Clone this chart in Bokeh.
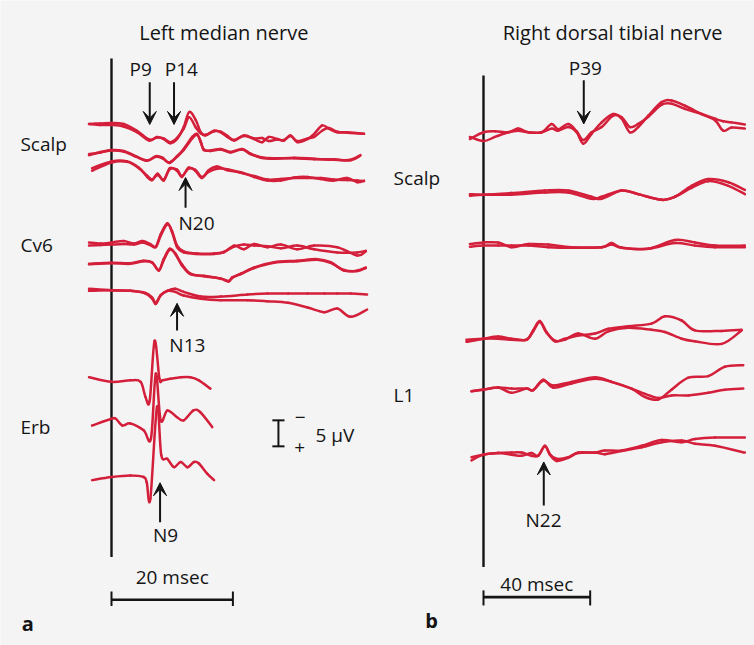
from bokeh.plotting import figure
from bokeh.models import Range1d, Arrow, VeeHead
from bokeh.embed import file_html
from bokeh.resources import INLINE
from bokeh.core.properties import value

# ---------------- data (time in msec, amplitude in µV, negative up) ----------------
# Left median nerve: Scalp rows
s1_t = [-3.7, -1.8, 0.0, 2.0, 4.2, 6.2, 7.5, 8.6, 9.7, 10.8, 11.9, 12.8, 13.9, 14.7, 15.5, 16.9, 18.0, 19.1, 20.2, 21.8,
        23.5, 24.8, 25.9, 27.3, 28.4, 29.5, 30.6, 32.3, 33.4, 34.7, 35.8, 37.2, 38.9, 41.6]
s1_a = [-0.3, -0.1, -0.1, 0.2, 1.3, 2.9, 2.2, 2.6, 3.4, 2.6, 0.3, -2.6, -1.0, 1.3, 1.9, 1.0, 1.3, 2.2, 2.9, 1.9,
        2.6, 3.2, 2.2, 2.6, 2.9, 1.9, 3.2, 2.6, 1.6, 0.0, 0.6, 1.3, 1.3, 1.6]
s1_b = [-0.3, -0.4, -0.5, -0.3, 1.0, 2.7, 2.3, 2.5, 3.2, 2.4, 0.6, -1.6, 0.4, 1.5, 1.8, 1.1, 1.2, 2.0, 2.8, 2.0,
        2.5, 2.4, 3.0, 2.7, 2.8, 2.0, 3.0, 2.5, 2.2, 1.0, 0.5, 1.2, 1.4, 1.6]

s2_t = [-3.7, -1.8, 0.0, 2.0, 4.0, 5.9, 7.3, 8.4, 9.5, 10.8, 11.9, 13.3, 14.1, 14.7, 15.2, 16.3, 18.0, 19.6, 21.5, 22.9,
        24.6, 26.8, 30.1, 33.4, 36.6, 39.4, 41.0]
s2_a = [0.6, 0.0, -0.4, -0.2, 0.8, 1.7, 0.8, 1.1, 2.1, 0.8, -0.6, -2.9, -3.5, -1.9, -0.4, -0.3, -0.6, 0.0, -0.6, 0.3,
        1.1, 1.3, 1.1, 1.3, 1.5, 1.5, 0.6]
s2_b = [0.4, 0.1, -0.3, -0.1, 0.9, 1.6, 0.9, 1.2, 2.0, 0.9, -0.4, -2.6, -3.3, -2.0, -0.5, -0.2, -0.5, 0.1, -0.5, 0.4,
        1.0, 1.2, 1.2, 1.4, 1.4, 1.6, 0.7]

s3_t = [-3.2, 0.0, 2.6, 4.5, 5.9, 6.7, 7.6, 8.6, 9.6, 10.8, 11.6, 12.7, 13.8, 14.9, 16.0, 17.4, 19.1, 21.3, 23.5, 25.7,
        27.9, 30.1, 32.3, 34.5, 36.6, 38.8, 40.5, 41.6]
s3_a = [1.1, -0.2, -0.2, 1.0, 2.8, 3.4, 2.2, 3.5, 1.1, 1.6, 2.8, 1.0, 1.6, 3.0, 1.5, 0.8, 1.5, 1.9, 2.8, 3.5,
        3.5, 2.9, 2.8, 3.2, 3.5, 3.0, 3.8, 3.5]
s3_b = [1.6, 0.0, -0.1, 1.1, 2.6, 3.3, 2.4, 3.3, 1.3, 1.4, 2.6, 1.2, 1.4, 2.8, 1.8, 1.2, 1.3, 2.0, 2.6, 3.3,
        3.2, 3.0, 3.0, 3.0, 3.3, 3.4, 3.5, 3.6]

# Cv6 rows
c1_t = [-3.7, -1.8, 0.0, 2.0, 3.7, 5.1, 6.4, 7.3, 8.1, 9.2, 10.0, 10.8, 11.9, 14.1, 16.9, 18.5, 20.2, 21.8, 23.5, 25.7,
        27.9, 30.6, 33.4, 37.2, 40.5, 41.9]
c1_a = [-0.3, -0.1, -0.3, -0.6, -0.1, -0.6, 0.0, 0.5, -1.9, -4.0, -2.2, 0.6, 1.6, 1.9, 1.9, 1.6, 0.3, 1.0, 0.0, 0.6,
        0.1, 1.0, 0.3, 0.6, 2.2, 1.4]
c1_b = [0.3, 0.2, 0.1, 0.0, 0.1, -0.3, 0.2, 0.6, -1.6, -3.8, -2.4, 0.3, 1.4, 1.8, 1.8, 1.5, 0.5, 0.1, 0.3, 0.4,
        0.8, 0.3, 1.0, 1.6, 1.6, 1.3]

c2_t = [-3.7, 0.0, 3.1, 5.3, 6.7, 7.8, 8.6, 9.6, 10.5, 11.6, 13.0, 15.2, 18.0, 19.3, 19.9, 21.3, 23.5, 26.8, 30.6, 33.9,
        36.1, 38.3, 40.5, 41.9]
c2_a = [0.1, -0.1, 0.0, -0.5, -0.2, 1.4, -0.8, -2.8, -1.8, 0.4, 2.1, 2.4, 3.0, 3.5, 2.7, 2.1, 0.8, -0.2, -0.5, -0.8,
        -0.2, 1.4, 1.4, 0.8]
c2_b = [0.2, 0.0, 0.1, -0.4, -0.1, 1.3, -0.6, -2.6, -1.9, 0.2, 2.0, 2.5, 2.9, 3.4, 2.8, 2.0, 0.9, -0.1, -0.4, -0.7,
        -0.1, 1.3, 1.5, 0.9]

c3_t = [-3.7, 0.0, 3.1, 5.6, 6.7, 7.3, 8.1, 9.2, 10.5, 11.9, 14.7, 18.0, 22.4, 25.7, 29.1, 32.3, 35.1, 37.2, 39.4, 42.1]
c3_a = [-0.3, 0.0, 0.1, 0.6, 1.6, 2.6, 1.0, 0.1, -0.3, 0.3, 1.2, 1.2, 0.8, 0.6, 0.6, 0.6, 0.6, 0.6, 0.6, 0.8]
c3_b = [0.1, 0.0, 0.1, 0.5, 1.4, 2.4, 0.9, 0.1, 0.3, 1.0, 1.6, 1.9, 1.9, 2.1, 2.4, 3.3, 4.2, 3.5, 5.1, 3.7]

# Erb rows
e1_t = [-3.7, 0.0, 3.1, 4.8, 5.6, 6.3, 7.1, 7.9, 8.4, 9.7, 11.4, 13.0, 14.4, 16.3]
e1_v = [-0.6, 0.3, 0.0, 0.3, 3.2, 3.9, -7.6, -0.3, 0.0, -0.3, -0.6, -0.6, 0.0, 1.6]
e2_t = [-3.2, 0.0, 0.7, 1.8, 3.1, 5.3, 6.5, 7.3, 8.1, 9.2, 10.8, 11.9, 13.5, 14.6, 16.6]
e2_v = [1.0, -0.3, -0.3, 1.0, 0.6, 1.9, 3.5, -9.0, 0.0, -1.9, -0.6, 0.0, -1.9, -1.6, 1.3]
e3_t = [-3.2, 0.0, 3.1, 5.3, 5.8, 6.4, 7.5, 8.2, 9.2, 10.3, 11.4, 12.5, 13.6, 14.4, 15.8, 16.9]
e3_v = [0.6, 0.0, -0.3, 0.0, 1.0, 4.2, -13.5, -4.2, -3.5, -1.9, -2.9, -1.9, -2.9, -2.6, -0.6, 0.6]

# Right dorsal tibial nerve: Scalp rows
r1_t = [-5.1, 0.0, 4.3, 9.3, 13.0, 16.8, 21.8, 25.5, 28.0, 31.8, 34.9, 37.4, 40.5, 44.3, 48.6, 51.8, 54.9, 58.0, 61.8,
        66.8, 70.5, 75.5, 81.8, 86.8, 89.9, 93.0, 98.0]
r1_a = [1.0, -0.3, -0.5, -0.3, -1.0, -0.3, -0.3, -1.0, -0.6, -1.3, -0.3, 1.9, 0.0, -2.2, -3.8, -2.9, -0.3, -1.3, -3.5,
        -6.1, -6.4, -5.4, -3.8, -2.6, -0.6, -1.2, -1.0]
r1_b = [0.6, 1.4, 0.6, -0.3, -0.6, -0.3, -0.3, -1.9, -0.9, -1.9, -0.5, 1.2, -0.3, -1.3, -3.5, -3.2, -1.3, -1.9, -3.3,
        -5.6, -5.8, -4.8, -3.8, -2.9, -2.4, -2.2, -1.8]

r2_t = [-5.1, 0.0, 10.5, 23.0, 31.8, 40.5, 44.3, 51.8, 58.0, 66.8, 71.8, 78.0, 84.3, 91.8, 98.0]
r2_a = [0.2, 0.0, 0.0, -0.4, -0.4, 0.8, 0.4, -0.8, -0.1, 1.0, 0.4, -1.7, -3.0, -2.4, -0.9]
r2_b = [-0.1, 0.0, -0.3, -0.8, -0.8, 0.4, 0.8, -0.8, -0.1, 1.0, 0.4, -1.3, -2.6, -1.7, -0.1]

r3_t = [-5.1, 0.0, 5.5, 10.5, 16.8, 24.3, 33.0, 44.3, 48.0, 51.8, 61.8, 71.8, 79.3, 86.8, 98.0]
r3_a = [-0.1, -0.4, -0.4, 0.5, -0.1, 0.0, 0.5, 0.5, 0.0, 0.6, 0.8, -0.9, -0.4, 0.2, 0.2]
r3_b = [0.4, 0.2, 0.2, 0.2, 0.2, 0.5, 0.6, 0.5, -0.3, 0.6, 0.8, -0.3, 0.2, 0.5, 0.5]

# L1 rows
r4_t = [-6.4, 0.0, 5.5, 10.5, 16.1, 18.6, 21.1, 23.6, 26.8, 30.5, 35.5, 41.8, 46.8, 54.3, 63.0, 68.0, 74.3, 79.3, 89.3, 96.8]
r4_a = [0.4, -0.2, -0.6, -0.2, 0.0, -1.8, -3.6, -1.5, 0.3, -0.2, -0.8, -1.2, -2.1, -2.6, -3.1, -4.5, -3.7, -1.8, -1.7, -1.9]
r4_b = [0.0, -0.2, -0.2, 0.0, 0.0, -1.6, -3.4, -1.4, 0.2, 0.0, -1.2, -0.2, -1.6, -2.3, -1.9, -1.5, -0.2, 0.3, 0.8, -1.8]

r5_t = [-4.5, 0.0, 5.5, 10.5, 16.1, 18.6, 22.4, 26.1, 33.0, 41.8, 48.0, 55.5, 60.5, 65.5, 70.5, 76.8, 84.3, 90.5, 97.4]
r5_a = [0.3, 0.0, -0.4, 0.6, -0.2, 0.1, -1.9, -0.4, -1.2, -2.1, -1.5, -0.2, 1.4, 1.9, 0.0, -2.3, -2.6, -4.4, -4.7]
r5_b = [0.3, 0.0, -0.4, -0.2, -0.2, 0.1, -1.7, -0.8, -1.5, -2.4, -1.5, -0.2, 0.8, 1.6, 1.1, 1.1, 0.6, 0.0, -0.2]

r6_t = [-4.5, 0.0, 5.5, 10.5, 14.3, 18.0, 20.5, 23.0, 24.9, 27.4, 31.8, 35.5, 41.8, 45.5, 51.8, 59.3, 66.8, 74.3, 79.3,
        86.8, 98.0]
r6_a = [0.5, 0.0, -0.3, 0.0, 0.2, -0.3, 0.2, -1.7, -0.1, 0.8, 0.5, -0.4, -0.4, -0.8, -0.8, -1.7, -2.8, -2.4, -3.0,
        -3.3, -3.3]
r6_b = [1.1, 0.0, -0.3, -0.4, -0.4, 0.2, 0.2, -1.6, 0.0, 1.2, 0.6, -0.3, -0.4, -0.1, -0.7, -1.4, -2.4, -2.7, -2.1,
        -1.7, -0.4]

# labelled peaks (name, latency msec)
left_peaks_down = [("P9", 6.3), ("P14", 10.3)]
left_peaks_up = [("N20", 12.2), ("N13", 10.8), ("N9", 8.0)]
right_peaks_down = [("P39", 37.6)]
right_peaks_up = [("N22", 22.6)]

time_bar_left = 20     # msec
time_bar_right = 40    # msec
amp_bar = 5            # µV

# ---------------- style / layout ----------------
RED = "#d41f3b"
INK = "#141414"
BG = "#f4f4f4"
FONT = value("Open Sans")
W, H = 754, 645
PX_UV = 5.2                       # px per µV
Y_TOP, Y_BOT = -8 / PX_UV, (H - 8) / PX_UV
L_PX_MS, L_ZERO = 6.07, 111       # left panel: px per msec, zero position
R_PX_MS, R_ZERO = 2.667, 483      # right panel

p = figure(width=W, height=H,
           x_range=Range1d(-L_ZERO / L_PX_MS, (W - L_ZERO) / L_PX_MS),
           y_range=Range1d(Y_BOT, Y_TOP),
           output_backend="svg", toolbar_location=None, min_border=0,
           background_fill_color=BG, border_fill_color=BG, outline_line_color=None)
p.extra_x_ranges = {"right": Range1d(-R_ZERO / R_PX_MS, (W - R_ZERO) / R_PX_MS)}
p.xaxis.visible = False
p.yaxis.visible = False
p.grid.visible = False


def trace(t, v, off, xr="default"):
    """Smooth curve through every read point (Catmull-Rom drawn with Bokeh's bezier glyph)."""
    y = [off + a for a in v]
    n = len(t)
    d = dict(x0=[], y0=[], x1=[], y1=[], cx0=[], cy0=[], cx1=[], cy1=[])
    for i in range(n - 1):
        im, ip = max(i - 1, 0), min(i + 2, n - 1)
        d["x0"].append(t[i]); d["y0"].append(y[i])
        d["x1"].append(t[i + 1]); d["y1"].append(y[i + 1])
        d["cx0"].append(t[i] + (t[i + 1] - t[im]) / 6); d["cy0"].append(y[i] + (y[i + 1] - y[im]) / 6)
        d["cx1"].append(t[i + 1] - (t[ip] - t[i]) / 6); d["cy1"].append(y[i + 1] - (y[ip] - y[i]) / 6)
    p.bezier(**d, line_color=RED, line_width=2.5, line_cap="round", x_range_name=xr)


def label(x, y, txt, size="19px", align="left", style="normal", xr="default"):
    p.text(x=[x], y=[y], text=[txt], text_font=FONT, text_font_size=size, text_color=INK,
           text_align=align, text_baseline="middle", text_font_style=style, x_range_name=xr)


def arrow(x, y0, y1, xr="default"):
    p.add_layout(Arrow(end=VeeHead(size=13, fill_color=INK, line_color=INK, line_width=1),
                       x_start=x, y_start=y0, x_end=x, y_end=y1, line_color=INK, line_width=2,
                       x_range_name=xr))


def seg(x0, y0, x1, y1, w, xr="default"):
    p.segment(x0=x0, y0=y0, x1=x1, y1=y1, line_color=INK, line_width=w, x_range_name=xr)


# ---------------- left panel ----------------
seg([0], [9.6], [0], [105.5], 2.4)

for t, a, b, off in [(s1_t, s1_a, s1_b, 22.5), (s2_t, s2_a, s2_b, 27.6), (s3_t, s3_a, s3_b, 29.6),
                     (c1_t, c1_a, c1_b, 45.3), (c2_t, c2_a, c2_b, 49.0), (c3_t, c3_a, c3_b, 54.2)]:
    trace(t, a, off)
    trace(t, b, off)
for t, v, off in [(e1_t, e1_v, 71.5), (e2_t, e2_v, 79.2), (e3_t, e3_v, 90.1)]:
    trace(t, v, off)

label(18.5, 4.6, "Left median nerve", size="20px", align="center")
label(-15.0, 26.0, "Scalp")
label(-15.0, 45.4, "Cv6")
label(-15.0, 80.4, "Erb")

(p9, p9t), (p14, p14t) = left_peaks_down
arrow(p9t, 14.2, 22.3)
arrow(p14t, 14.2, 22.3)
label(4.8, 11.7, p9, align="center")
label(11.5, 11.7, p14, align="center")
(n20, n20t), (n13, n13t), (n9, n9t) = left_peaks_up
arrow(n20t, 38.3, 32.5)
label(14.0, 41.2, n20, align="center")
arrow(n13t, 61.9, 56.7)
label(12.5, 64.8, n13, align="center")
arrow(n9t, 98.8, 91.2)
label(8.9, 101.2, n9, align="center")

# amplitude calibration
seg([27.5], [79.2], [27.5], [79.2 + amp_bar], 2)
seg([26.5, 26.5], [79.2, 79.2 + amp_bar], [28.5, 28.5], [79.2, 79.2 + amp_bar], 2)
label(31.1, 78.6, "\u2212", align="center")
label(31.0, 84.4, "+", align="center")
label(33.6, 82.1, f"{amp_bar} \u00b5V")

# time bar
seg([0], [113.7], [time_bar_left], [113.7], 2.6)
seg([0, time_bar_left], [112.1, 112.1], [0, time_bar_left], [114.9, 114.9], 2)
label(time_bar_left / 2, 109.4, f"{time_bar_left} msec", align="center")
label(-13.8, 118.3, "a", size="20px", align="center", style="bold")

# ---------------- right panel ----------------
R = "right"
seg([0], [12.9], [0], [107.4], 2.4, xr=R)

for t, a, b, off in [(r1_t, r1_a, r1_b, 24.1), (r2_t, r2_a, r2_b, 35.8), (r3_t, r3_a, r3_b, 45.4),
                     (r4_t, r4_a, r4_b, 63.7), (r5_t, r5_a, r5_b, 73.3), (r6_t, r6_a, r6_b, 85.8)]:
    trace(t, a, off, xr=R)
    trace(t, b, off, xr=R)

label(48.4, 4.6, "Right dorsal tibial nerve", size="20px", align="center", xr=R)
label(-33.7, 32.5, "Scalp", xr=R)
label(-33.7, 74.4, "L1", xr=R)

(p39, p39t), = right_peaks_down
arrow(p39t, 13.8, 22.2, xr=R)
label(38.2, 11.5, p39, align="center", xr=R)
(n22, n22t), = right_peaks_up
arrow(n22t, 95.6, 87.2, xr=R)
label(22.5, 98.3, n22, align="center", xr=R)

seg([0], [113.2], [time_bar_right], [113.2], 2.6, xr=R)
seg([0, time_bar_right], [111.9, 111.9], [0, time_bar_right], [114.8, 114.8], 2, xr=R)
label(time_bar_right / 2, 110.6, f"{time_bar_right} msec", align="center", xr=R)
label(-19.5, 117.7, "b", size="20px", align="center", style="bold", xr=R)

open("out.html", "w").write(file_html(p, INLINE))
